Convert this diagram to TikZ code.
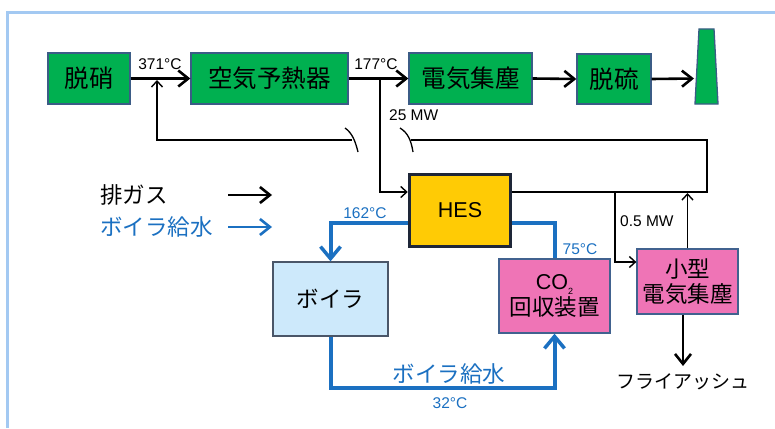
\documentclass[tikz,border=0pt]{standalone}
\usepackage{fontspec}
\setmainfont{Liberation Sans}
\newfontfamily\jp{Noto Sans CJK JP}
\usetikzlibrary{arrows.meta,calc}
\definecolor{frameblue}{HTML}{A3C9F2}
\definecolor{gbox}{HTML}{00B050}
\definecolor{gborder}{HTML}{3B5C86}
\definecolor{pbox}{HTML}{EF74B6}
\definecolor{pborder}{HTML}{41628F}
\definecolor{hesy}{HTML}{FFCB05}
\definecolor{hesb}{HTML}{1E2638}
\definecolor{bfill}{HTML}{CDE9FB}
\definecolor{bborder}{HTML}{4A5668}
\definecolor{wblue}{HTML}{1B70C1}
\tikzset{
  gbx/.style={draw=gborder,line width=1.3pt,fill=gbox,inner sep=0pt,font=\jp\fontsize{24.5}{26}\selectfont},
  pbx/.style={draw=pborder,line width=1.3pt,fill=pbox,inner sep=0pt,align=center},
  gas/.style={line width=2.6pt,-{Straight Barb[length=10pt,width=16pt,line width=2.6pt]}},
  thin/.style={line width=1.3pt},
  thinarr/.style={line width=1.3pt,-{Straight Barb[length=6pt,width=11pt,line width=1.4pt]}},
  water/.style={draw=wblue,line width=4pt},
  waterarr/.style={draw=wblue,line width=4pt,-{Straight Barb[length=12pt,width=20pt,line width=3.5pt]}},
  lbl/.style={font=\fontsize{15.5}{17}\selectfont,inner sep=0pt},
  blbl/.style={font=\fontsize{15.5}{17}\selectfont,inner sep=0pt,text=wblue},
}
\begin{document}
\begin{tikzpicture}[x=1pt,y=-1pt]
\useasboundingbox (0,0) rectangle (775,428);
% frame
\draw[frameblue,line width=3pt] (7,428) -- (7,13) -- (775,13);

% top row
\node[gbx,minimum width=82pt,minimum height=51pt] (dn) at (89,78.5) {脱硝};
\node[gbx,minimum width=157pt,minimum height=51pt] (aph) at (269.5,78.5) {空気予熱器};
\node[gbx,minimum width=123pt,minimum height=51pt] (esp) at (470.5,78.5) {電気集塵};
\node[gbx,minimum width=74pt,minimum height=50pt] (ds) at (614,79) {脱硫};
\draw[gborder,line width=1.3pt,fill=gbox] (699,29) -- (714,29) -- (718,104) -- (695,104) -- cycle;
\coordinate (chim) at (694,78.5);

\draw[gas] (dn.east) -- (aph.west);
\draw[gas] (aph.east) -- (esp.west);
\draw[gas] (esp.east) -- (ds.west);
\draw[gas] (ds.east) -- (chim);

\node[lbl,anchor=south] (t371) at (160,70) {371°C};
\node[lbl,anchor=south] (t177) at (376,70) {177°C};

% HES
\node[draw=hesb,line width=3.5pt,fill=hesy,minimum width=101pt,minimum height=72pt,inner sep=0pt,font=\fontsize{21.5}{23}\selectfont] (hes) at (460,210.5) {HES};

% branch from 177 arrow to HES
\coordinate (b1) at (380,78.5);
\draw[thinarr,line width=2pt] (b1) |- (hes.west |- 0,192);
\node[lbl,anchor=west] (t25) at (389,115) {25 MW};

% return loop
\coordinate (j1) at (157,80);
\draw[thin] (hes.east |- 0,192) -- (707,192) -- (707,140) -- (411,140);
\draw[thin] (400,128) .. controls (408,133) and (411,140) .. (413,152);
\draw[thin] (345,128) .. controls (352,133) and (355,140) .. (358,152);
\draw[thinarr,line width=1.8pt] (352,140) -- (157,140) -- (j1);

% small ESP
\node[pbx,minimum width=101pt,minimum height=65pt,font=\jp\fontsize{22.5}{25}\selectfont] (esp2) at (687.5,281.5) {小型\\電気集塵};
\draw[thinarr] (615,192) |- (esp2.west |- 0,262);
\draw[thinarr] (esp2.north) -- (esp2.north |- 0,193);
\node[lbl,anchor=west] (t05) at (620,221) {0.5 MW};
\node[font=\jp\fontsize{19}{21}\selectfont,inner sep=0pt,anchor=north] (fa) at (683,373) {フライアッシュ};
\draw[gas,line width=2pt] (esp2.south -| fa.north) -- ($(fa.north)+(0,-7)$);

% CO2 unit
\node[pbx,minimum width=111pt,minimum height=74pt] (co2) at (554.5,296) {{\fontsize{21.5}{25}\selectfont CO\raisebox{-0.5ex}{\fontsize{9}{9}\selectfont 2}}\\[1pt]{\jp\fontsize{22.5}{24}\selectfont 回収装置}};

% boiler
\node[draw=bborder,line width=1.3pt,fill=bfill,minimum width=115pt,minimum height=74pt,inner sep=0pt,font=\jp\fontsize{22.5}{24}\selectfont] (boil) at (330.5,299) {ボイラ};

% water lines
\draw[waterarr] (hes.west |- 0,223) -| (boil.north);
\draw[water] (hes.east |- 0,223) -| (co2.north);
\draw[waterarr] (boil.south) |- (co2.south |- 0,388) -- (co2.south);
\node[blbl,anchor=south] (t162) at (365,219) {162°C};
\node[blbl,anchor=south] (t75) at (580,255) {75°C};
\node[blbl,anchor=north] (t32) at (450,397) {32°C};
\node[font=\jp\fontsize{22.5}{24}\selectfont,text=wblue,inner sep=0pt] (bw) at (449,374) {ボイラ給水};

% legend
\node[font=\jp\fontsize{22.5}{24}\selectfont,inner sep=0pt,anchor=west] (lg1) at (100,195) {排ガス};
\node[font=\jp\fontsize{22.5}{24}\selectfont,text=wblue,inner sep=0pt,anchor=west] (lg2) at (100,227) {ボイラ給水};
\coordinate (la1) at (228,195);
\coordinate (lb1) at (272,195);
\coordinate (la2) at (228,227);
\coordinate (lb2) at (272,227);
\draw[gas] (la1) -- (lb1);
\draw[wblue,line width=2.6pt,-{Straight Barb[length=10pt,width=16pt,line width=2.6pt]}] (la2) -- (lb2);
\end{tikzpicture}
\end{document}
